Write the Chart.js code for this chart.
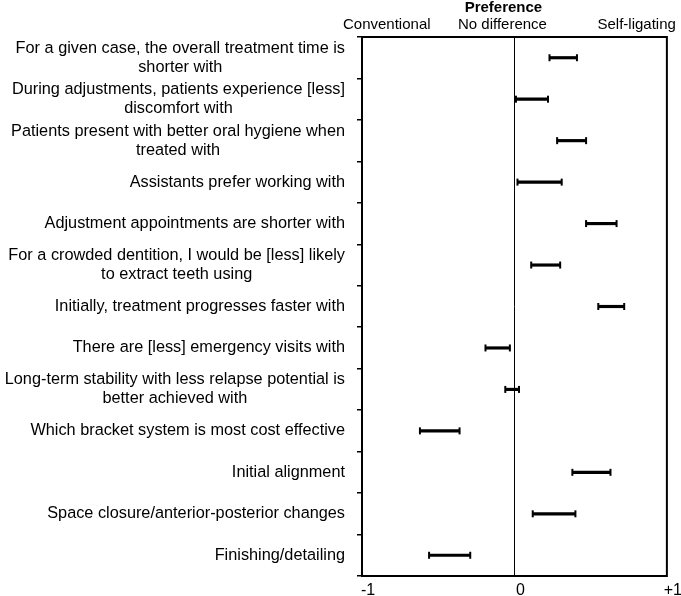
<!doctype html>
<html lang="en">
  <head>
    <meta charset="utf-8">
    <title>Preference: conventional vs self-ligating</title>
    <style>
      * {
        margin: 0;
        padding: 0;
      }
      body {
        background: white;
      }
      .chartBox {
        width: 681px;
        height: 596px;
      }
    </style>
  </head>
  <body>
    <div class="chartBox">
      <canvas id="myChart"></canvas>
    </div>
    <script src="https://cdn.jsdelivr.net/npm/chart.js/dist/chart.umd.min.js"></script>
    <script>
    // data
    const questions = [
      ['For a given case, the overall treatment time is', 'shorter with'],
      ['During adjustments, patients experience [less]', 'discomfort with'],
      ['Patients present with better oral hygiene when', 'treated with'],
      ['Assistants prefer working with'],
      ['Adjustment appointments are shorter with'],
      ['For a crowded dentition, I would be [less] likely', 'to extract teeth using'],
      ['Initially, treatment progresses faster with'],
      ['There are [less] emergency visits with'],
      ['Long-term stability with less relapse potential is', 'better achieved with'],
      ['Which bracket system is most cost effective'],
      ['Initial alignment'],
      ['Space closure/anterior-posterior changes'],
      ['Finishing/detailing']
    ];
    const lowValues  = [0.23, 0.01, 0.28, 0.02, 0.47, 0.11, 0.55, -0.19, -0.06, -0.62, 0.38, 0.12, -0.56];
    const highValues = [0.41, 0.22, 0.47, 0.31, 0.67, 0.30, 0.72, -0.03, 0.03, -0.36, 0.63, 0.40, -0.29];
    const xTicks = [-1, 0, 1];
    const xTickText = ['-1', '0', '+1'];
    const headerTitle = 'Preference';
    const headerLeft = 'Conventional';
    const headerMid = 'No difference';
    const headerRight = 'Self-ligating';

    const FONT = "'Liberation Sans', Arial, sans-serif";

    // caps at both ends of every interval, positioned from the bar elements
    const capsPlugin = {
      id: 'caps',
      afterDatasetsDraw(chart) {
        const ctx = chart.ctx;
        const meta = chart.getDatasetMeta(0);
        ctx.save();
        ctx.strokeStyle = '#000';
        ctx.lineWidth = 2;
        meta.data.forEach(bar => {
          const p = bar.getProps(['x', 'y', 'base'], true);
          [p.x, p.base].forEach(px => {
            ctx.beginPath();
            ctx.moveTo(px, p.y - 3.5);
            ctx.lineTo(px, p.y + 3.5);
            ctx.stroke();
          });
        });
        ctx.restore();
      }
    };

    // frame, question labels and header texts
    const decorPlugin = {
      id: 'decor',
      afterDraw(chart) {
        const ctx = chart.ctx;
        const area = chart.chartArea;
        const yScale = chart.scales.y;
        const xScale = chart.scales.x;
        ctx.save();
        ctx.strokeStyle = '#000';
        ctx.lineWidth = 2;
        ctx.strokeRect(area.left, area.top, area.right - area.left, area.bottom - area.top);

        ctx.fillStyle = '#000';
        ctx.font = '16.3px ' + FONT;
        ctx.textAlign = 'center';
        ctx.textBaseline = 'middle';
        const rightEdge = area.left - 17;
        questions.forEach((lines, i) => {
          const cy = yScale.getPixelForValue(i);
          const widest = Math.max(...lines.map(l => ctx.measureText(l).width));
          const cx = rightEdge - widest / 2;
          lines.forEach((l, j) => {
            ctx.fillText(l, cx, cy + (j - (lines.length - 1) / 2) * 19);
          });
        });

        const zero = xScale.getPixelForValue(0);
        ctx.font = 'bold 15px ' + FONT;
        ctx.fillText(headerTitle, zero - 11, 8);
        ctx.font = '15px ' + FONT;
        ctx.fillText(headerMid, zero - 12, 25);
        ctx.textAlign = 'left';
        ctx.fillText(headerLeft, area.left - 19, 25);
        ctx.textAlign = 'right';
        ctx.fillText(headerRight, area.right + 9, 25);
        ctx.restore();
      }
    };

    const data = {
      labels: questions.map(q => q.join(' ')),
      datasets: [{
        data: lowValues.map((lo, i) => [lo, highValues[i]]),
        backgroundColor: '#000',
        borderWidth: 0,
        barThickness: 2.5
      }]
    };

    const config = {
      type: 'bar',
      data,
      options: {
        indexAxis: 'y',
        responsive: true,
        maintainAspectRatio: false,
        animation: false,
        layout: {
          padding: { top: 37, right: 14, left: 0, bottom: 0 }
        },
        plugins: {
          legend: { display: false },
          tooltip: { enabled: false }
        },
        scales: {
          x: {
            min: -1,
            max: 1,
            afterBuildTicks: scale => {
              scale.ticks = xTicks.map(v => ({ value: v }));
            },
            afterFit: scale => { scale.height = 20; },
            border: { display: false },
            grid: {
              drawTicks: false,
              color: c => (c.tick && c.tick.value === 0 ? '#000' : 'rgba(0,0,0,0)'),
              lineWidth: 1
            },
            ticks: {
              padding: 5,
              labelOffset: 6,
              color: '#000',
              font: { family: FONT, size: 16 },
              callback: v => xTickText[xTicks.indexOf(v)]
            }
          },
          y: {
            afterFit: scale => { scale.width = 362; },
            border: { display: false },
            grid: {
              drawOnChartArea: false,
              drawTicks: true,
              tickLength: 5,
              color: '#000',
              lineWidth: 1.5
            },
            ticks: { display: false }
          }
        }
      },
      plugins: [capsPlugin, decorPlugin]
    };

    const myChart = new Chart(document.getElementById('myChart'), config);
    </script>
  </body>
</html>
